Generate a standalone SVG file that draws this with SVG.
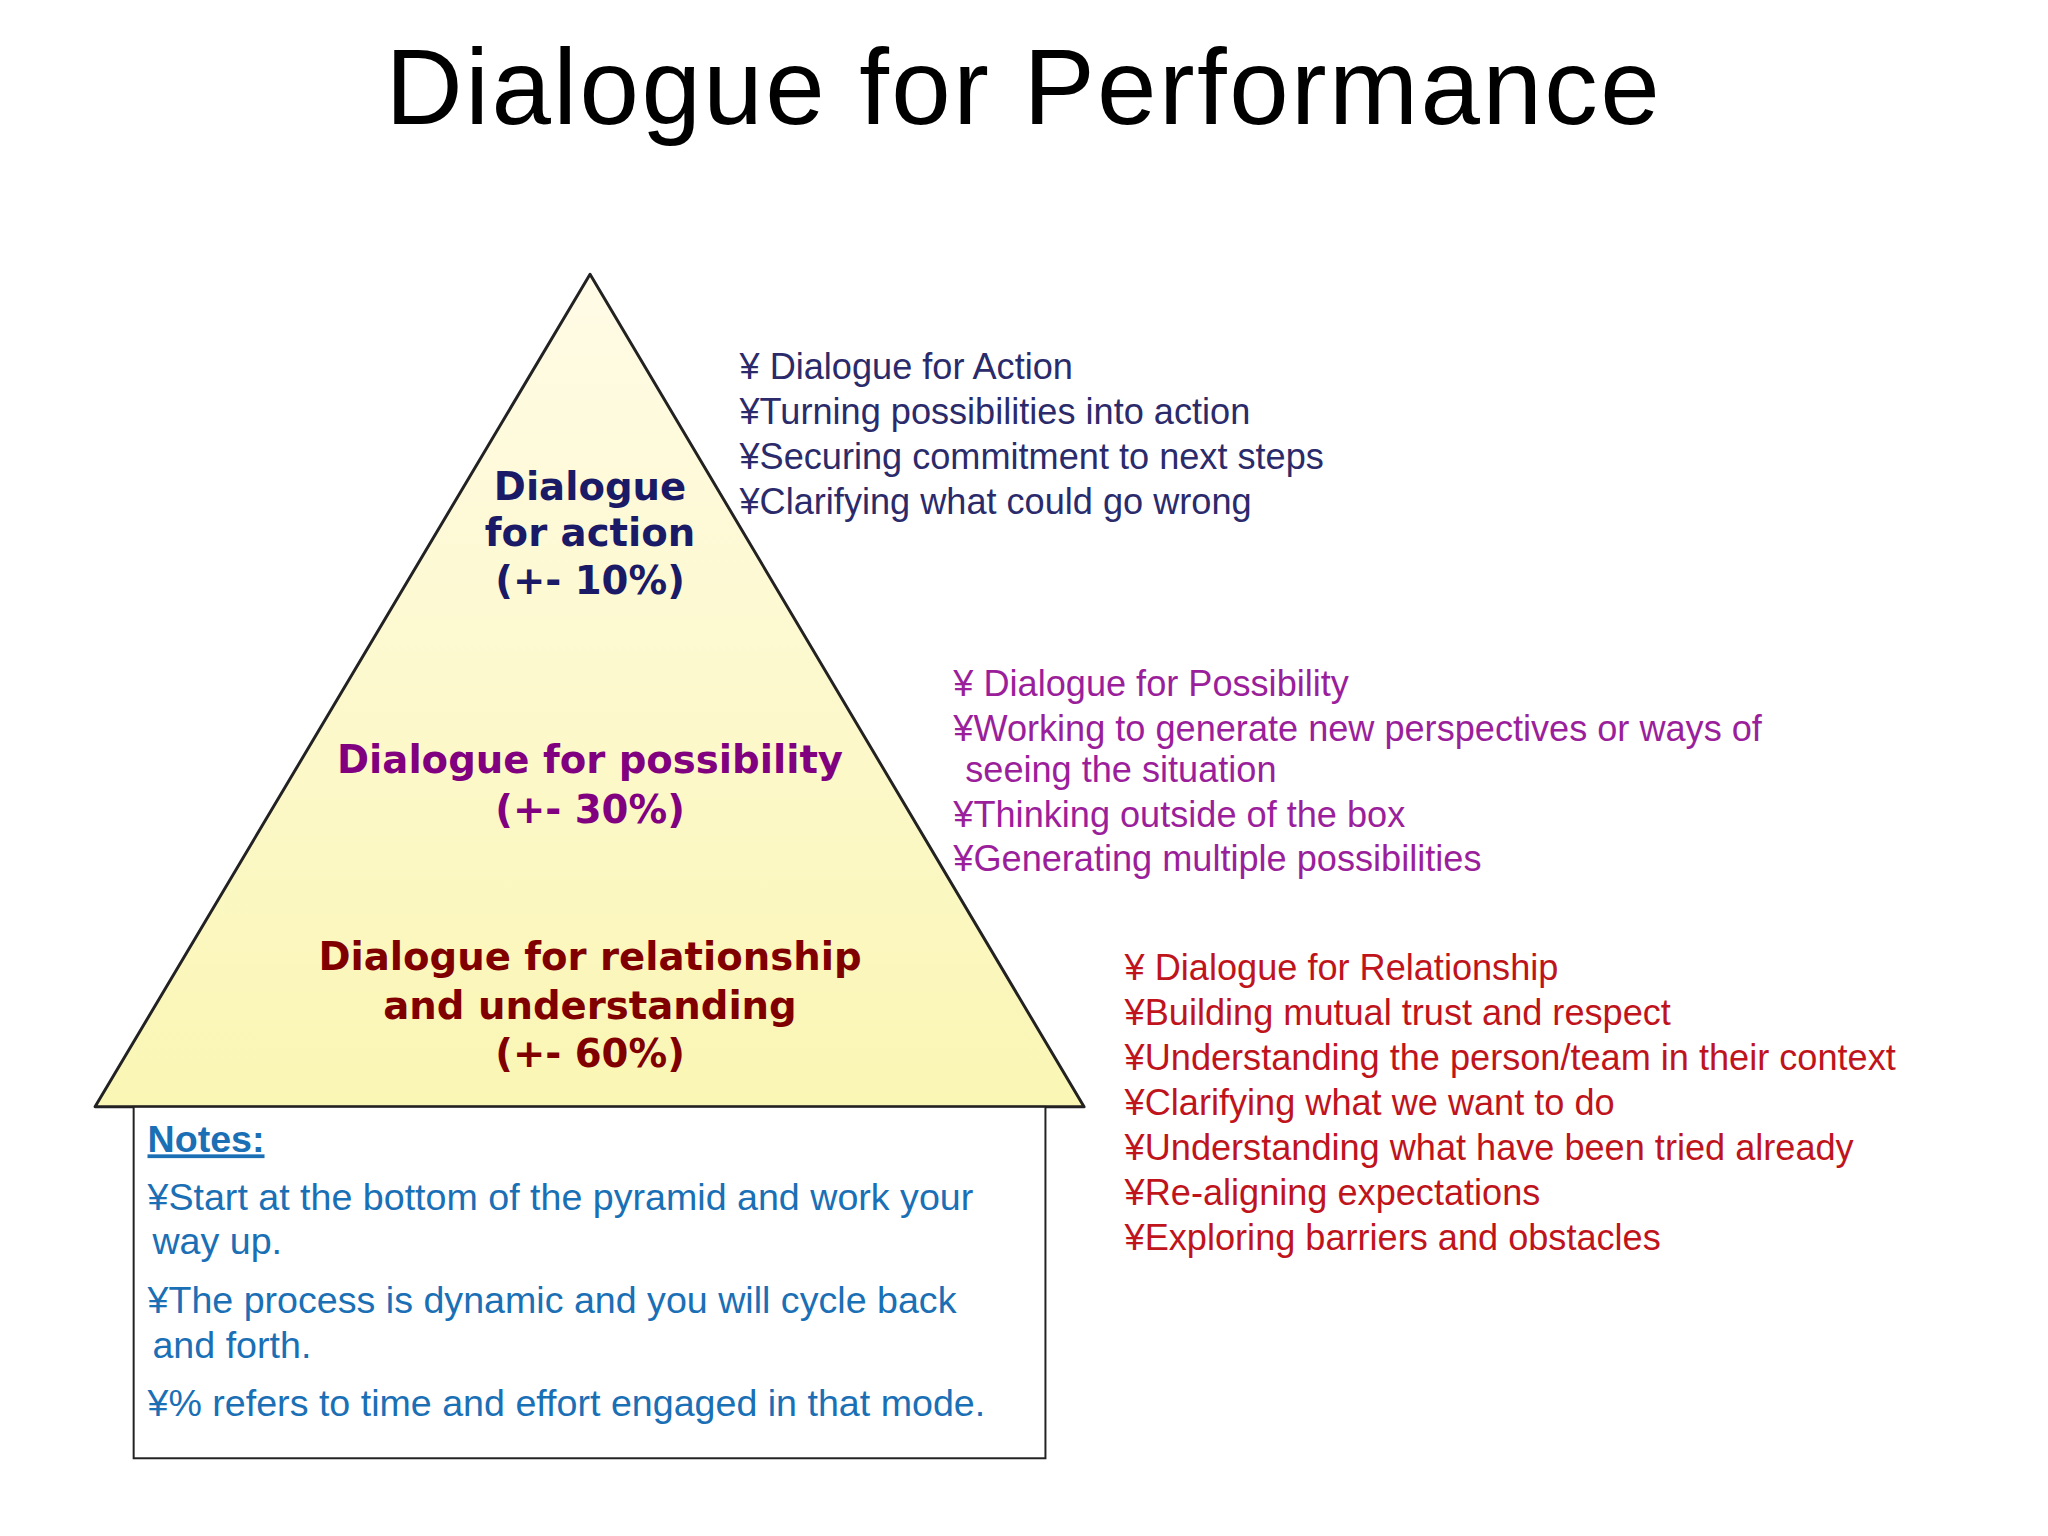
<svg xmlns="http://www.w3.org/2000/svg" width="2048" height="1536" viewBox="0 0 2048 1536">
<defs>
<style>
.t{font-family:"Liberation Sans",Arial,sans-serif}
.p{font-family:"DejaVu Sans",Verdana,sans-serif;font-weight:bold;font-size:39px;text-anchor:middle}
.a{fill:#2b2b6b;font-size:36.5px}
.b{fill:#9b1f9b;font-size:36.5px}
.c{fill:#c0141c;font-size:36.5px}
.n{fill:#1a6fb5;font-size:38px}
</style>
<linearGradient id="g" x1="0" y1="0" x2="0" y2="1"><stop offset="0" stop-color="#fffbe6"/><stop offset="1" stop-color="#faf6b4"/></linearGradient>
</defs>
<rect width="2048" height="1536" fill="#fff"/>
<g transform="scale(0.99)">
<text class="t" x="1033" y="125" font-size="108" text-anchor="middle" textLength="1287" fill="#000">Dialogue for Performance</text>
<g id="pyramid">
<polygon points="596,277 1095,1118 96,1118" fill="url(#g)" stroke="#222" stroke-width="3" stroke-linejoin="round"/>
<text class="p" fill="#1a1a66"><tspan x="596" y="505">Dialogue</tspan><tspan x="596" y="552">for action</tspan><tspan x="596" y="600">(+- 10%)</tspan></text>
<text class="p" fill="#800080"><tspan x="596" y="781">Dialogue for possibility</tspan><tspan x="596" y="831">(+- 30%)</tspan></text>
<text class="p" fill="#800000"><tspan x="596" y="980">Dialogue for relationship</tspan><tspan x="596" y="1029">and understanding</tspan><tspan x="596" y="1078">(+- 60%)</tspan></text>
</g>
<g id="notes">
<rect x="135" y="1118" width="921" height="355" fill="#fff" stroke="#222" stroke-width="2"/>
<text class="t n" x="149" y="1164" font-weight="bold" text-decoration="underline">Notes:</text>
<text class="t n"><tspan x="149" y="1222">¥Start at the bottom of the pyramid and work your</tspan><tspan x="154" y="1267">way up.</tspan><tspan x="149" y="1326">¥The process is dynamic and you will cycle back</tspan><tspan x="154" y="1372">and forth.</tspan><tspan x="149" y="1430">¥% refers to time and effort engaged in that mode.</tspan></text>
</g>
<g id="action-list">
<text class="t a"><tspan x="747" y="383">¥ Dialogue for Action</tspan><tspan x="747" y="428">¥Turning possibilities into action</tspan><tspan x="747" y="474">¥Securing commitment to next steps</tspan><tspan x="747" y="519">¥Clarifying what could go wrong</tspan></text>
</g>
<g id="possibility-list">
<text class="t b"><tspan x="963" y="703">¥ Dialogue for Possibility</tspan><tspan x="963" y="748">¥Working to generate new perspectives or ways of</tspan><tspan x="975" y="790">seeing the situation</tspan><tspan x="963" y="835">¥Thinking outside of the box</tspan><tspan x="963" y="880">¥Generating multiple possibilities</tspan></text>
</g>
<g id="relationship-list">
<text class="t c"><tspan x="1136" y="990">¥ Dialogue for Relationship</tspan><tspan x="1136" y="1035">¥Building mutual trust and respect</tspan><tspan x="1136" y="1081">¥Understanding the person/team in their context</tspan><tspan x="1136" y="1126">¥Clarifying what we want to do</tspan><tspan x="1136" y="1172">¥Understanding what have been tried already</tspan><tspan x="1136" y="1217">¥Re-aligning expectations</tspan><tspan x="1136" y="1263">¥Exploring barriers and obstacles</tspan></text>
</g>
<g id="connectors"/>
</g>
</svg>
